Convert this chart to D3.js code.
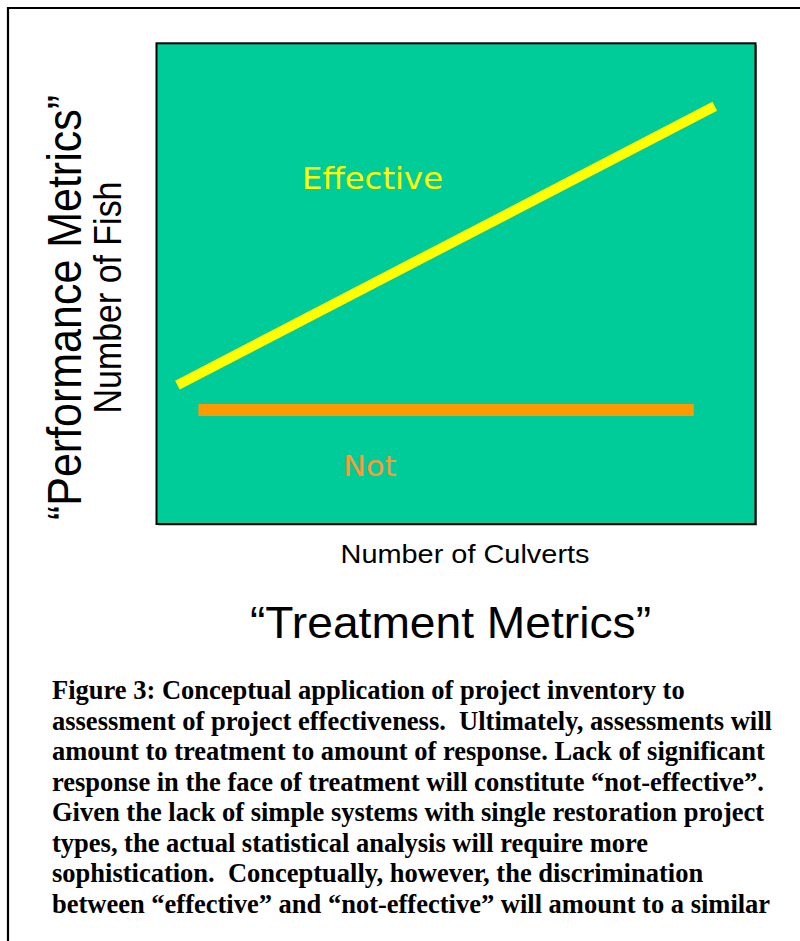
<!DOCTYPE html>
<html>
<head>
<meta charset="utf-8">
<script src="https://cdn.jsdelivr.net/npm/d3@7"></script>
<style>
  html, body { margin: 0; padding: 0; background: #fff; }
  svg { display: block; }
</style>
</head>
<body>
<svg id="chart" width="800" height="941"></svg>
<script>
// ---- data ----
const seriesNames = ["Effective", "Not"];
const effectiveX = [3.5, 93.2];
const effectiveY = [28.9, 86.9];
const notX = [7, 89.7];
const notY = [23.7, 23.7];
const labelTexts = ["Effective", "Not"];
const labelX = [24.3, 31.2];
const labelY = [69.6, 10.0];
const xDomain = [0, 100];
const yDomain = [0, 100];
const xTitle = "Number of Culverts";
const xSuperTitle = "\u201CTreatment Metrics\u201D";
const yTitle = "Number of Fish";
const ySuperTitle = "\u201CPerformance Metrics\u201D";
const captionLines = [
  "Figure 3: Conceptual application of project inventory to",
  "assessment of project effectiveness.  Ultimately, assessments will",
  "amount to treatment to amount of response. Lack of significant",
  "response in the face of treatment will constitute \u201Cnot-effective\u201D.",
  "Given the lack of simple systems with single restoration project",
  "types, the actual statistical analysis will require more",
  "sophistication.  Conceptually, however, the discrimination",
  "between \u201Ceffective\u201D and \u201Cnot-effective\u201D will amount to a similar"
];

// ---- drawing ----
const svg = d3.select("#chart");
const plot = { left: 156.5, top: 43.3, right: 755.5, bottom: 524 };

const x = d3.scaleLinear().domain(xDomain).range([plot.left, plot.right]);
const y = d3.scaleLinear().domain(yDomain).range([plot.bottom, plot.top]);

// outer page frame (left and top edges visible)
svg.append("path")
  .attr("d", "M8,941 L8,8 L800,8")
  .attr("fill", "none")
  .attr("stroke", "#000")
  .attr("stroke-width", 2.2);

// plot background with slight shadow
svg.append("rect")
  .attr("x", x(xDomain[0]) + 1.5).attr("y", y(yDomain[1]) + 1.5)
  .attr("width", x(xDomain[1]) - x(xDomain[0]))
  .attr("height", y(yDomain[0]) - y(yDomain[1]))
  .attr("fill", "#8a8a8a");
svg.append("rect")
  .attr("x", x(xDomain[0])).attr("y", y(yDomain[1]))
  .attr("width", x(xDomain[1]) - x(xDomain[0]))
  .attr("height", y(yDomain[0]) - y(yDomain[1]))
  .attr("fill", "#00CC99")
  .attr("stroke", "#000")
  .attr("stroke-width", 2);

const line = d3.line().x(d => x(d[0])).y(d => y(d[1]));
const effective = d3.zip(effectiveX, effectiveY);
const notEff = d3.zip(notX, notY);

svg.append("path").datum(notEff)
  .attr("d", line).attr("fill", "none")
  .attr("stroke", "#FF9900").attr("stroke-width", 12).attr("stroke-linecap", "butt");
svg.append("path").datum(effective)
  .attr("d", line).attr("fill", "none")
  .attr("stroke", "#FFFF00").attr("stroke-width", 10).attr("stroke-linecap", "butt");

const labelColors = ["#FFFF00", "#FF9933"];
const labelSizes = [30, 29];
const labelLens = [141, 53];
labelTexts.forEach((t, i) => {
  svg.append("text")
    .attr("x", x(labelX[i])).attr("y", y(labelY[i]))
    .attr("font-family", "DejaVu Sans, Verdana, sans-serif")
    .attr("font-size", labelSizes[i])
    .attr("fill", labelColors[i])
    .attr("textLength", labelLens[i])
    .attr("lengthAdjust", "spacingAndGlyphs")
    .text(t);
});

// axis titles
const sans = "Liberation Sans, Arial, Helvetica, sans-serif";
svg.append("text")
  .attr("x", 465).attr("y", 563)
  .attr("text-anchor", "middle")
  .attr("font-family", sans).attr("font-size", 26.5)
  .attr("textLength", 249).attr("lengthAdjust", "spacingAndGlyphs")
  .text(xTitle);
svg.append("text")
  .attr("x", 450.5).attr("y", 638)
  .attr("text-anchor", "middle")
  .attr("font-family", sans).attr("font-size", 43.5)
  .attr("textLength", 401).attr("lengthAdjust", "spacingAndGlyphs")
  .text(xSuperTitle);

svg.append("text")
  .attr("transform", "translate(81,307.5) rotate(-90)")
  .attr("text-anchor", "middle")
  .attr("font-family", sans).attr("font-size", 49)
  .attr("textLength", 425).attr("lengthAdjust", "spacingAndGlyphs")
  .text(ySuperTitle);
svg.append("text")
  .attr("transform", "translate(121,297.5) rotate(-90)")
  .attr("text-anchor", "middle")
  .attr("font-family", sans).attr("font-size", 39)
  .attr("textLength", 232).attr("lengthAdjust", "spacingAndGlyphs")
  .text(yTitle);

// caption: measure first line at the tall size, then pick a font size whose natural
// width fits, and stretch vertically back to the reference's glyph height
const capFamily = "Liberation Serif, Times New Roman, serif";
const tallSize = 28;
const probe = svg.append("text")
  .attr("font-family", capFamily).attr("font-weight", "bold")
  .attr("font-size", tallSize).style("white-space", "pre")
  .text(captionLines[0]);
const factor = 633 / probe.node().getComputedTextLength();
probe.remove();
const capSize = tallSize * factor;
const vStretch = 1 / factor;

svg.append("g").selectAll("text").data(captionLines).join("text")
  .attr("transform", (d, i) => `translate(52,${699 + i * 30.5}) scale(1,${vStretch})`)
  .attr("x", 0).attr("y", 0)
  .attr("font-family", capFamily)
  .attr("font-weight", "bold")
  .attr("font-size", capSize)
  .attr("fill", "#000")
  .style("white-space", "pre")
  .text(d => d);
</script>
</body>
</html>
